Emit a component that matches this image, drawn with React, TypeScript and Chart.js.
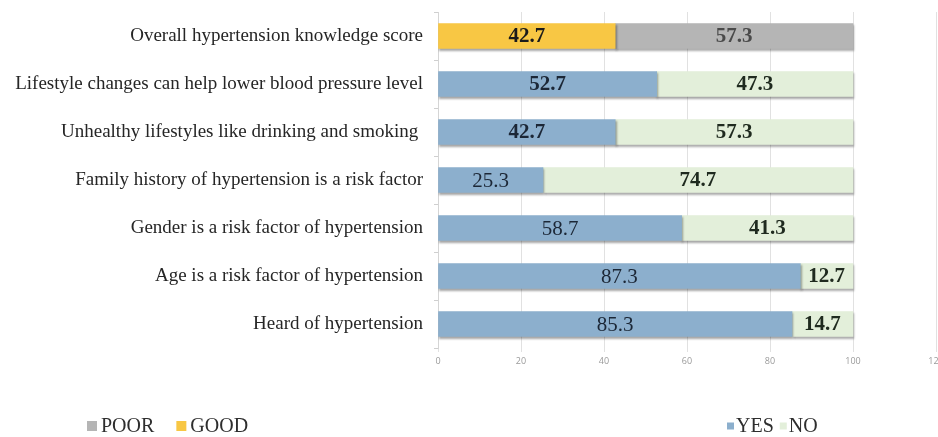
import React, { useEffect, useRef } from "react";
import { Chart, registerables } from "chart.js";

Chart.register(...registerables);

const categories = [
  "Overall hypertension knowledge score",
  "Lifestyle changes can help lower blood pressure level",
  "Unhealthy lifestyles like drinking and smoking ",
  "Family history of hypertension is a risk factor",
  "Gender is a risk factor of hypertension",
  "Age is a risk factor of hypertension",
  "Heard of hypertension",
];
const goodValues = [42.7, null, null, null, null, null, null];
const poorValues = [57.3, null, null, null, null, null, null];
const yesValues = [null, 52.7, 42.7, 25.3, 58.7, 87.3, 85.3];
const noValues = [null, 47.3, 57.3, 74.7, 41.3, 12.7, 14.7];
const xMin = 0;
const xMax = 120;
const xStep = 20;

const COLORS = {
  GOOD: "#F8C744",
  POOR: "#B5B5B5",
  YES: "#8CAFCD",
  NO: "#E3EFDA",
};

const SERIF = "'Liberation Serif', 'Times New Roman', serif";

// label style per dataset: text colour and indices drawn in bold
const labelStyle: Record<string, { color: string; bold: (i: number) => boolean }> = {
  GOOD: { color: "#1b1b1b", bold: () => true },
  POOR: { color: "#4a4a4a", bold: () => true },
  YES: { color: "#1c2736", bold: (i) => i === 1 || i === 2 },
  NO: { color: "#1f2a1f", bold: () => true },
};

const shadowPlugin = {
  id: "barShadow",
  beforeDatasetsDraw(chart: any) {
    const ctx = chart.ctx;
    ctx.save();
    ctx.shadowColor = "rgba(0,0,0,0.35)";
    ctx.shadowBlur = 2;
    ctx.shadowOffsetX = 1;
    ctx.shadowOffsetY = 2;
  },
  afterDatasetsDraw(chart: any) {
    chart.ctx.restore();
  },
};

const valueLabelPlugin = {
  id: "valueLabels",
  afterDatasetsDraw(chart: any) {
    const ctx = chart.ctx;
    ctx.save();
    chart.data.datasets.forEach((ds: any, di: number) => {
      const meta = chart.getDatasetMeta(di);
      const st = labelStyle[ds.label];
      meta.data.forEach((bar: any, i: number) => {
        const v = ds.data[i];
        if (v == null) return;
        const p = bar.getProps(["x", "y", "base"], true);
        const cx = (p.x + p.base) / 2;
        ctx.font = `${st.bold(i) ? "bold " : ""}21px ${SERIF}`;
        ctx.fillStyle = st.color;
        ctx.textAlign = "center";
        ctx.textBaseline = "middle";
        ctx.fillText(v.toFixed(1), cx, p.y + 1);
      });
    });
    ctx.restore();
  },
};

const legendGroups = [
  { start: 87, items: [{ label: "POOR", color: COLORS.POOR }, { label: "GOOD", color: COLORS.GOOD }], box: 10, gapText: 4, gapItem: 22 },
  { start: 727, items: [{ label: "YES", color: COLORS.YES }, { label: "NO", color: COLORS.NO }], box: 7, gapText: 2, gapItem: 6 },
];

const legendPlugin = {
  id: "splitLegend",
  afterDraw(chart: any) {
    const ctx = chart.ctx;
    const cy = 426;
    ctx.save();
    ctx.font = `20px ${SERIF}`;
    ctx.textBaseline = "middle";
    ctx.textAlign = "left";
    legendGroups.forEach((g) => {
      let x = g.start;
      g.items.forEach((it) => {
        ctx.fillStyle = it.color;
        ctx.fillRect(x, cy - g.box / 2, g.box, g.box);
        x += g.box + g.gapText;
        ctx.fillStyle = "#2e2e2e";
        ctx.fillText(it.label, x, cy + 1);
        x += ctx.measureText(it.label).width + g.gapItem;
      });
    });
    ctx.restore();
  },
};

export default function App() {
  const ref = useRef<HTMLCanvasElement | null>(null);
  useEffect(() => {
    if (!ref.current) return;
    const chart = new Chart(ref.current, {
      type: "bar",
      data: {
        labels: categories,
        datasets: [
          { label: "GOOD", data: goodValues, backgroundColor: COLORS.GOOD, stack: "s", barThickness: 25 },
          { label: "POOR", data: poorValues, backgroundColor: COLORS.POOR, stack: "s", barThickness: 25 },
          { label: "YES", data: yesValues, backgroundColor: COLORS.YES, stack: "s", barThickness: 25 },
          { label: "NO", data: noValues, backgroundColor: COLORS.NO, stack: "s", barThickness: 25 },
        ] as any,
      },
      options: {
        indexAxis: "y",
        responsive: false,
        animation: false,
        devicePixelRatio: 1,
        layout: { padding: { left: 0, right: 24, top: 12, bottom: 59 } },
        plugins: { legend: { display: false }, tooltip: { enabled: false } },
        scales: {
          x: {
            stacked: true,
            min: xMin,
            max: xMax,
            z: 1,
            ticks: {
              stepSize: xStep,
              color: "#9a9a9a",
              font: { family: "'Open Sans', sans-serif", size: 9 },
              padding: 4,
              maxRotation: 0,
            },
            grid: { color: "rgba(170,170,170,0.35)", tickLength: 4 },
            border: { display: false },
            afterFit: (s: any) => {
              s.height = 30;
            },
          },
          y: {
            stacked: true,
            ticks: {
              color: "#262626",
              font: { family: SERIF, size: 19 },
              padding: 11,
              autoSkip: false,
            },
            grid: { drawOnChartArea: false, tickLength: 4, color: "#cfcfcf" },
            border: { color: "#d5d5d5" },
            afterFit: (s: any) => {
              s.width = 438;
              s.paddingTop = 0;
              s.paddingBottom = 0;
            },
          },
        },
      } as any,
      plugins: [shadowPlugin, valueLabelPlugin, legendPlugin],
    });
    return () => chart.destroy();
  }, []);
  return (
    <div style={{ position: "fixed", left: 0, top: 0, width: 938, height: 437, overflow: "hidden", background: "#fff" }}>
      <canvas ref={ref} width={960} height={437} style={{ width: 960, height: 437, display: "block" }} />
    </div>
  );
}
